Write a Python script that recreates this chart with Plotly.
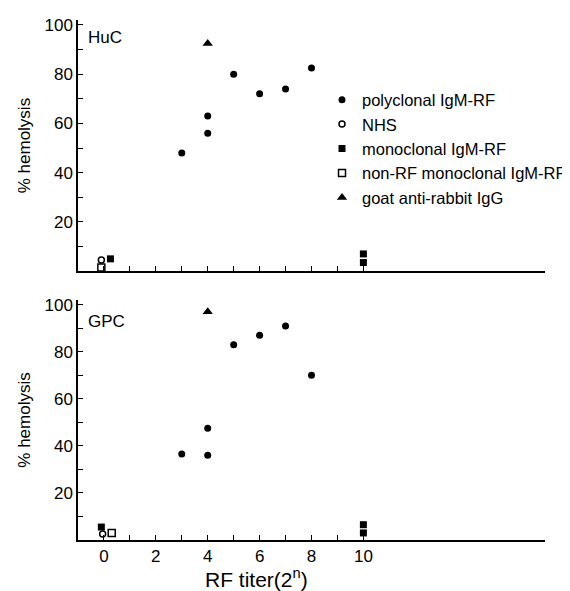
import plotly.graph_objects as go
from plotly.subplots import make_subplots

# ---- data ----
series_names = ["polyclonal IgM-RF", "NHS", "monoclonal IgM-RF",
                "non-RF monoclonal IgM-RF", "goat anti-rabbit IgG"]

# HuC panel
huc_poly_x = [3, 4, 4, 5, 6, 7, 8]
huc_poly_y = [48, 63, 56, 80, 72, 74, 82.5]
huc_nhs_x = [-0.1]
huc_nhs_y = [4.5]
huc_mono_x = [0.25, 10, 10]
huc_mono_y = [5, 7, 3.5]
huc_nonrf_x = [-0.1]
huc_nonrf_y = [1.5]
huc_goat_x = [4]
huc_goat_y = [92.5]

# GPC panel
gpc_poly_x = [3, 4, 4, 5, 6, 7, 8]
gpc_poly_y = [36.5, 47.5, 36, 83, 87, 91, 70]
gpc_nhs_x = [-0.05]
gpc_nhs_y = [2.5]
gpc_mono_x = [-0.1, 10, 10]
gpc_mono_y = [5.5, 6.5, 3]
gpc_nonrf_x = [0.3]
gpc_nonrf_y = [3]
gpc_goat_x = [4]
gpc_goat_y = [97]

x_tickvals = list(range(0, 11))
x_ticktext = ["0", "", "2", "", "4", "", "6", "", "8", "", "10"]
y_tickvals = list(range(10, 101, 10))
y_ticktext = ["", "20", "", "40", "", "60", "", "80", "", "100"]

styles = [
    dict(symbol="circle", size=7, color="black", line=dict(width=0)),
    dict(symbol="circle-open", size=6, color="black", line=dict(width=1.5)),
    dict(symbol="square", size=7, color="black", line=dict(width=0)),
    dict(symbol="square-open", size=7, color="black", line=dict(width=1.5)),
    dict(symbol="triangle-up", size=9, color="black", line=dict(width=0)),
]

fig = make_subplots(rows=2, cols=1, vertical_spacing=0.05)

panels = [
    (1, [(huc_poly_x, huc_poly_y), (huc_nhs_x, huc_nhs_y), (huc_mono_x, huc_mono_y),
         (huc_nonrf_x, huc_nonrf_y), (huc_goat_x, huc_goat_y)]),
    (2, [(gpc_poly_x, gpc_poly_y), (gpc_nhs_x, gpc_nhs_y), (gpc_mono_x, gpc_mono_y),
         (gpc_nonrf_x, gpc_nonrf_y), (gpc_goat_x, gpc_goat_y)]),
]
for row, data in panels:
    for i, (xs, ys) in enumerate(data):
        fig.add_trace(go.Scatter(x=xs, y=ys, mode="markers", name=series_names[i],
                                 marker=styles[i], showlegend=(row == 1),
                                 cliponaxis=False),
                      row=row, col=1)

font = dict(family="Liberation Sans, Arial, sans-serif", size=15, color="black")

axis_common = dict(showgrid=False, zeroline=False, showline=True, linecolor="black",
                   linewidth=1.5, ticks="inside", ticklen=5, tickcolor="black",
                   tickwidth=1, automargin=False)

fig.update_xaxes(range=[-1, 17], tickvals=x_tickvals, **axis_common)
fig.update_xaxes(ticktext=[""] * 11, row=1, col=1)
fig.update_xaxes(ticktext=x_ticktext, tickfont=dict(size=17), row=2, col=1)
fig.update_yaxes(range=[0, 102], tickvals=y_tickvals, ticktext=y_ticktext,
                 tickfont=dict(size=17),
                 title=dict(text="% hemolysis", font=dict(size=17), standoff=10),
                 **axis_common)

fig.update_layout(
    width=570, height=591,
    margin=dict(l=70, r=33, t=12, b=59, autoexpand=False),
    plot_bgcolor="white", paper_bgcolor="white",
    font=font,
    xaxis=dict(domain=[0, 1]),
    yaxis=dict(domain=[0.517, 1.0]),
    yaxis2=dict(domain=[0.0, 0.4615]),
    legend=dict(x=0.5225, y=0.880, xanchor="left", yanchor="top",
                bgcolor="rgba(0,0,0,0)", font=dict(size=16.5), tracegroupgap=0,
                itemwidth=30),
    annotations=[
        dict(text="HuC", x=0.017, y=0.989, xref="paper", yref="paper",
             xanchor="left", yanchor="top", showarrow=False, font=dict(size=17)),
        dict(text="GPC", x=0.017, y=0.443, xref="paper", yref="paper",
             xanchor="left", yanchor="top", showarrow=False, font=dict(size=17)),
        dict(text="RF titer(2<sup>n</sup>)", x=0.383, y=-0.073, xref="paper",
             yref="paper", xanchor="center", yanchor="middle", showarrow=False,
             font=dict(size=21)),
    ],
)

fig.write_html("out.html")
